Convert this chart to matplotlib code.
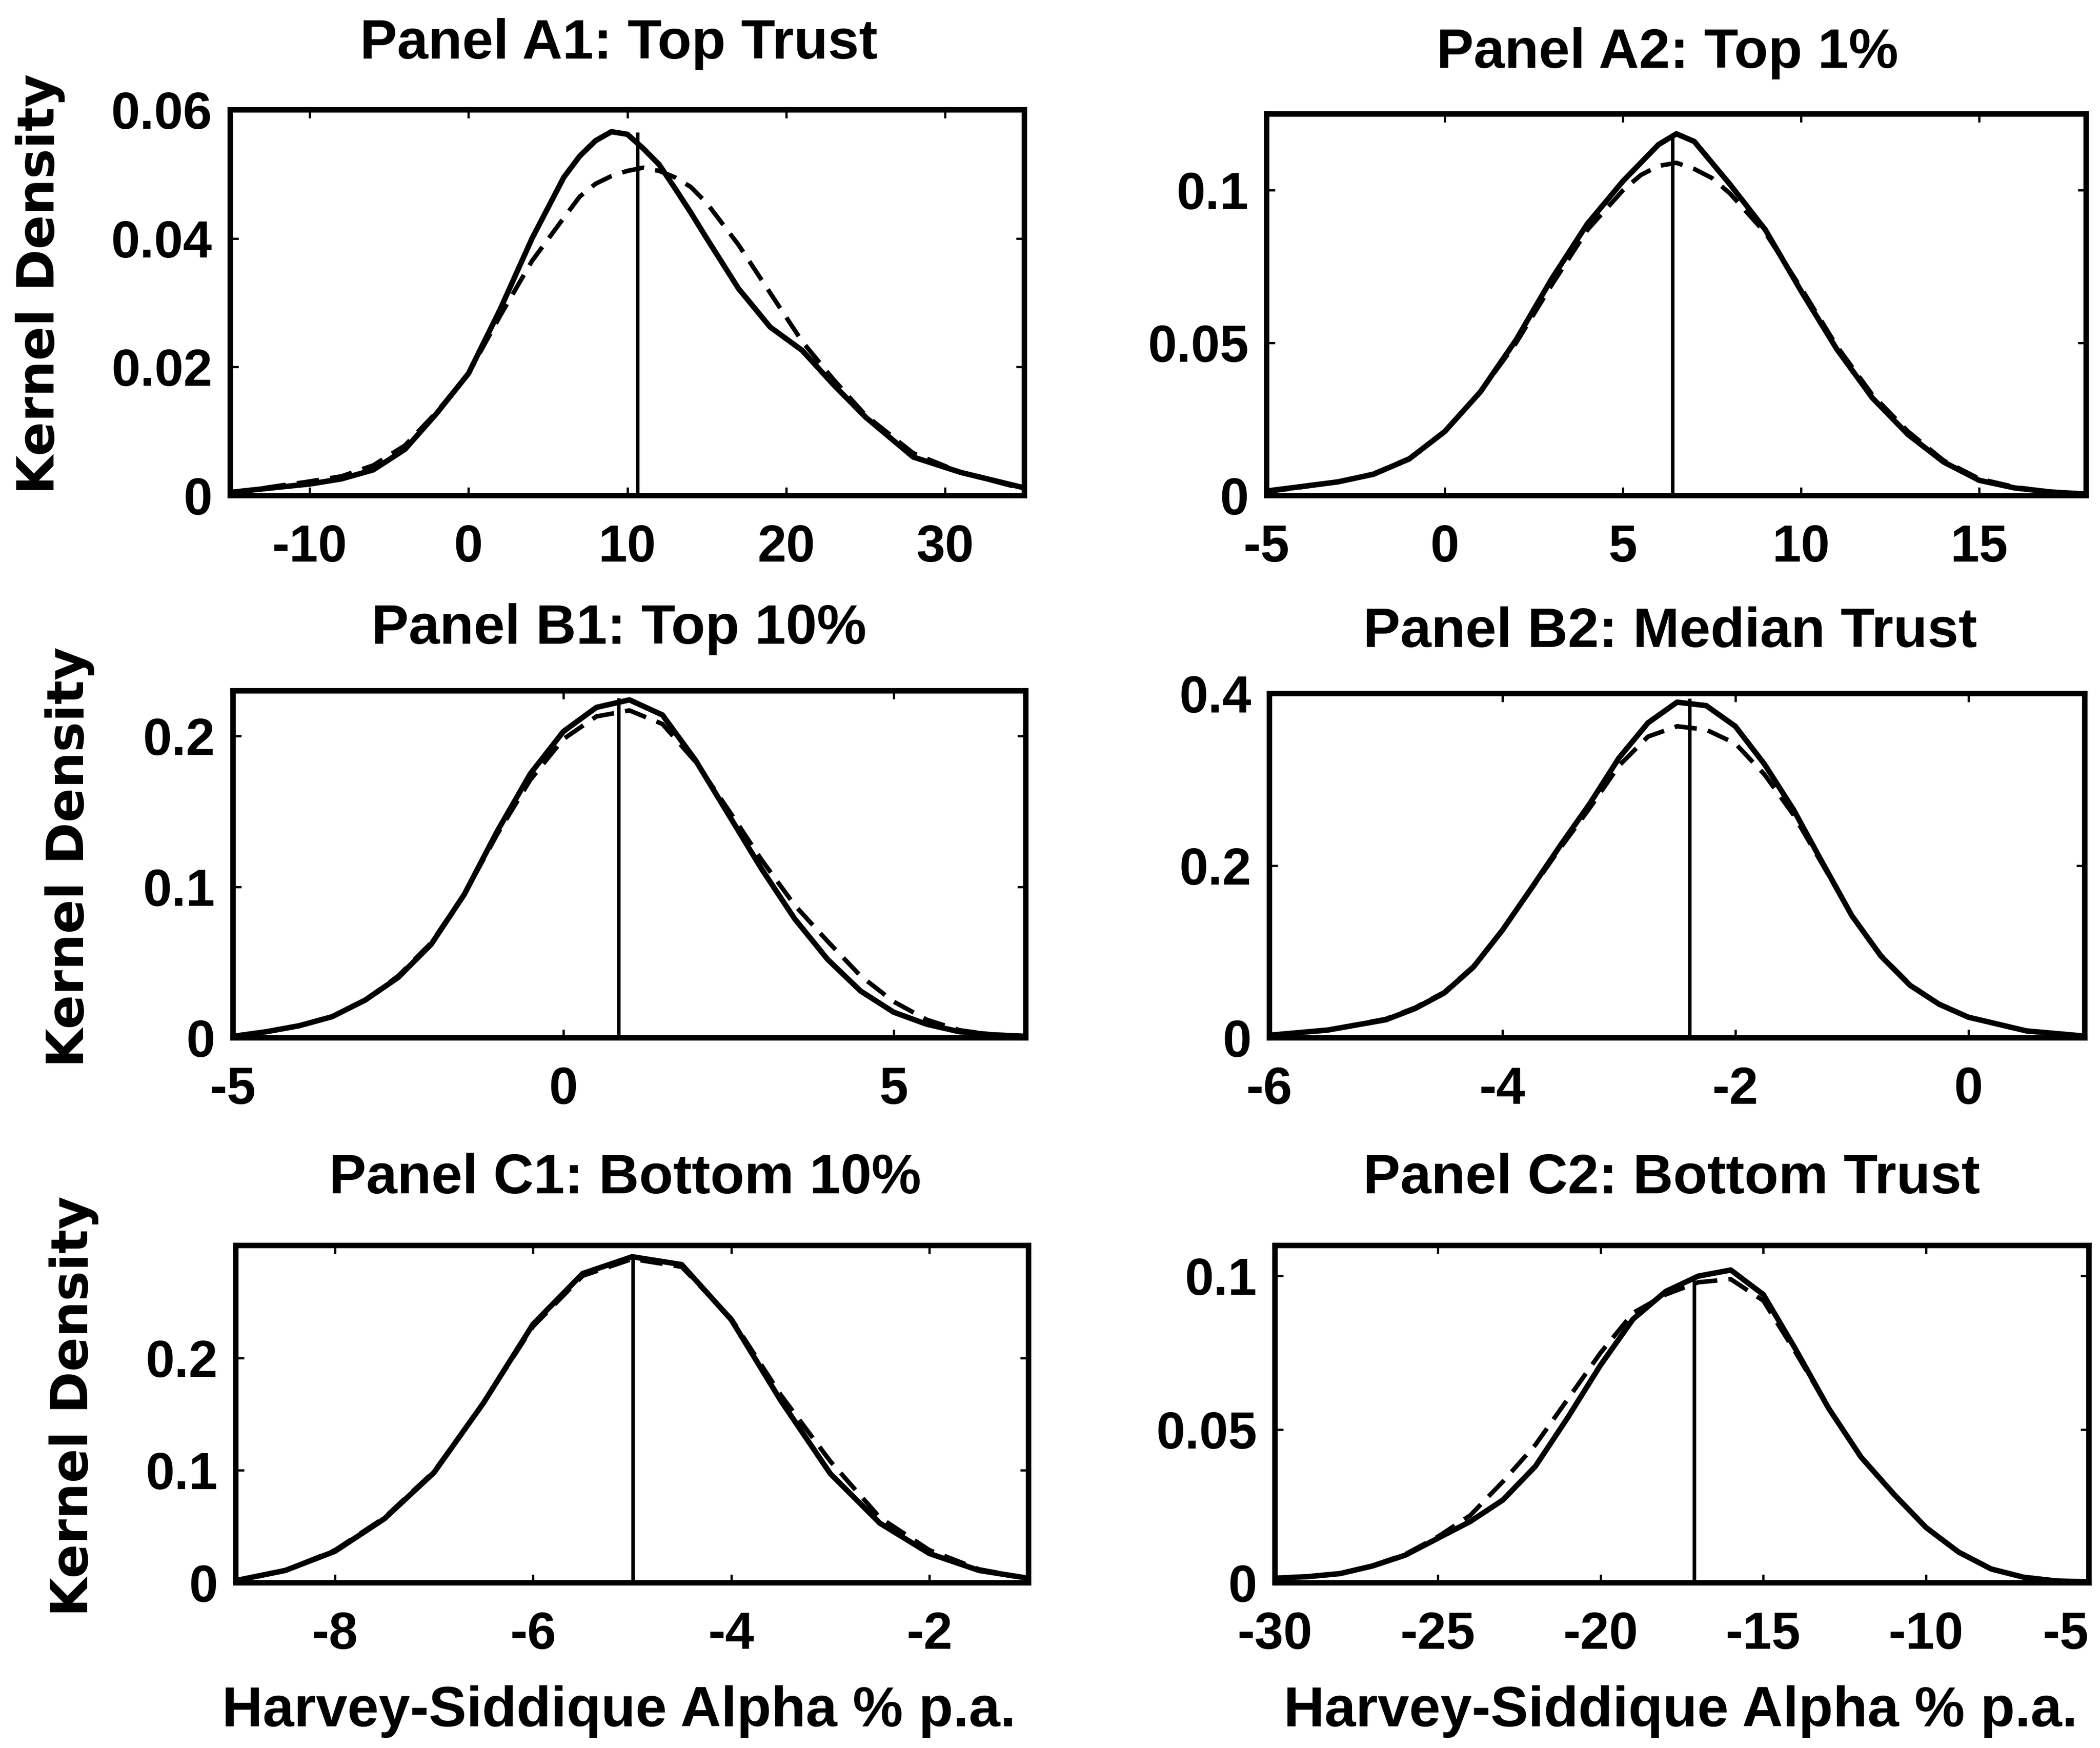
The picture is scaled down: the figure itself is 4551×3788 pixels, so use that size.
import matplotlib
matplotlib.use("Agg")
import matplotlib.pyplot as plt
from matplotlib import font_manager

plt.rcParams["axes.unicode_minus"] = False

names = {f.name for f in font_manager.fontManager.ttflist}
MAIN_FONT = "Liberation Sans" if "Liberation Sans" in names else "DejaVu Sans"
YLAB_FONT = "DejaVu Sans"

# ---------------- data ----------------
# Panel A1: Top Trust
a1_alpha = [-15, -12, -10, -8, -6, -4, -2, 0, 2, 4, 6, 7, 8, 9, 10, 11, 12, 13, 14,
            15, 17, 19, 21, 23, 25, 28, 31, 35]
a1_solid = [0.0005, 0.0013, 0.0018, 0.0026, 0.0040, 0.0072, 0.0128, 0.019, 0.029,
            0.040, 0.0495, 0.0528, 0.0552, 0.0566, 0.0562, 0.054, 0.0515, 0.0478,
            0.0440, 0.0400, 0.0322, 0.0262, 0.0226, 0.0172, 0.0122, 0.0060, 0.0036, 0.0012]
a1_dashed = [0.0004, 0.0015, 0.0022, 0.003, 0.0047, 0.0078, 0.013, 0.019, 0.028,
             0.0365, 0.0432, 0.0465, 0.0485, 0.0497, 0.0505, 0.051, 0.0505, 0.0495,
             0.0480, 0.0455, 0.0390, 0.0315, 0.0240, 0.0180, 0.0125, 0.0066, 0.0036, 0.001]
a1_actual, a1_actual_top = 10.65, 0.0562

# Panel A2: Top 1%
a2_alpha = [-5, -4, -3, -2, -1, 0, 1, 2, 3, 4, 5, 5.5, 6, 6.5, 7, 7.5, 8, 9, 10, 11,
            12, 13, 14, 15, 16, 17, 18]
a2_solid = [0.0015, 0.003, 0.0045, 0.007, 0.012, 0.021, 0.034, 0.051, 0.071, 0.089,
            0.103, 0.109, 0.115, 0.1185, 0.116, 0.109, 0.102, 0.087, 0.067, 0.048,
            0.032, 0.020, 0.011, 0.005, 0.0025, 0.0012, 0.0005]
a2_dashed = [0.0012, 0.0028, 0.0045, 0.0072, 0.0122, 0.021, 0.034, 0.050, 0.069,
             0.087, 0.100, 0.105, 0.108, 0.109, 0.107, 0.104, 0.099, 0.086, 0.068,
             0.049, 0.033, 0.021, 0.0115, 0.0055, 0.0028, 0.0012, 0.0004]
a2_actual, a2_actual_top = 6.4, 0.117

# Panel B1: Top 10%
b1_alpha = [-5, -4.5, -4, -3.5, -3, -2.5, -2, -1.5, -1, -0.5, 0, 0.5, 1, 1.5, 2, 2.5,
            3, 3.5, 4, 4.5, 5, 5.5, 6, 6.5, 7]
b1_solid = [0.001, 0.004, 0.008, 0.014, 0.025, 0.040, 0.062, 0.095, 0.137, 0.175,
            0.203, 0.219, 0.224, 0.214, 0.184, 0.148, 0.112, 0.079, 0.052, 0.031,
            0.017, 0.009, 0.004, 0.002, 0.001]
b1_dashed = [0.001, 0.004, 0.008, 0.014, 0.025, 0.041, 0.063, 0.095, 0.135, 0.171,
             0.198, 0.213, 0.217, 0.208, 0.183, 0.151, 0.118, 0.088, 0.064, 0.041,
             0.024, 0.012, 0.005, 0.002, 0.001]
b1_actual, b1_actual_top = 0.84, 0.224

# Panel B2: Median Trust
b2_alpha = [-6, -5.5, -5, -4.75, -4.5, -4.25, -4, -3.75, -3.5, -3.25, -3, -2.75, -2.5,
            -2.25, -2, -1.75, -1.5, -1.25, -1, -0.75, -0.5, -0.25, 0, 0.5, 1]
b2_solid = [0.003, 0.009, 0.021, 0.034, 0.052, 0.082, 0.125, 0.174, 0.224, 0.272,
            0.325, 0.366, 0.390, 0.386, 0.362, 0.318, 0.265, 0.203, 0.142, 0.095,
            0.061, 0.039, 0.024, 0.008, 0.002]
b2_dashed = [0.003, 0.009, 0.022, 0.035, 0.053, 0.083, 0.125, 0.173, 0.221, 0.267,
             0.316, 0.350, 0.362, 0.358, 0.342, 0.306, 0.259, 0.201, 0.142, 0.096,
             0.062, 0.039, 0.024, 0.008, 0.002]
b2_actual, b2_actual_top = -2.39, 0.392

# Panel C1: Bottom 10%
c1_alpha = [-9, -8.5, -8, -7.5, -7, -6.5, -6, -5.5, -5, -4.5, -4, -3.5, -3, -2.5, -2,
            -1.5, -1]
c1_solid = [0.002, 0.011, 0.028, 0.057, 0.098, 0.160, 0.230, 0.275, 0.290, 0.283,
            0.234, 0.162, 0.097, 0.053, 0.026, 0.011, 0.004]
c1_dashed = [0.002, 0.011, 0.029, 0.058, 0.099, 0.160, 0.228, 0.273, 0.288, 0.281,
             0.235, 0.167, 0.108, 0.058, 0.029, 0.012, 0.004]
c1_actual, c1_actual_top = -4.99, 0.289

# Panel C2: Bottom Trust
c2_alpha = [-30, -29, -28, -27, -26, -25, -24, -23, -22, -21, -20, -19, -18, -17, -16,
            -15, -14, -13, -12, -11, -10, -9, -8, -7, -6, -5]
c2_solid = [0.0015, 0.002, 0.003, 0.0055, 0.009, 0.0145, 0.020, 0.027, 0.038, 0.054,
            0.071, 0.086, 0.095, 0.100, 0.102, 0.094, 0.076, 0.057, 0.041, 0.029,
            0.018, 0.010, 0.0045, 0.0018, 0.0006, 0.0003]
c2_dashed = [0.0015, 0.002, 0.003, 0.0056, 0.0093, 0.015, 0.022, 0.033, 0.045, 0.060,
             0.075, 0.088, 0.094, 0.098, 0.099, 0.092, 0.075, 0.057, 0.041, 0.029,
             0.018, 0.010, 0.0045, 0.0018, 0.0006, 0.0003]
c2_actual, c2_actual_top = -17.12, 0.098

titles = ["Panel A1: Top Trust", "Panel A2: Top 1%", "Panel B1: Top 10%",
          "Panel B2: Median Trust", "Panel C1: Bottom 10%", "Panel C2: Bottom Trust"]

x_limits = [(-15, 35), (-5, 18), (-5, 7), (-6, 1), (-9, -1), (-30, -5)]
y_limits = [(0, 0.06), (0, 0.125), (0, 0.23), (0, 0.4), (0, 0.3), (0, 0.11)]
x_ticks = [[-10, 0, 10, 20, 30], [-5, 0, 5, 10, 15], [-5, 0, 5], [-6, -4, -2, 0],
           [-8, -6, -4, -2], [-30, -25, -20, -15, -10, -5]]
x_ticklabels = [["-10", "0", "10", "20", "30"], ["-5", "0", "5", "10", "15"],
                ["-5", "0", "5"], ["-6", "-4", "-2", "0"], ["-8", "-6", "-4", "-2"],
                ["-30", "-25", "-20", "-15", "-10", "-5"]]
y_ticks = [[0, 0.02, 0.04, 0.06], [0, 0.05, 0.1], [0, 0.1, 0.2], [0, 0.2, 0.4],
           [0, 0.1, 0.2], [0, 0.05, 0.1]]
y_ticklabels = [["0", "0.02", "0.04", "0.06"], ["0", "0.05", "0.1"], ["0", "0.1", "0.2"],
                ["0", "0.2", "0.4"], ["0", "0.1", "0.2"], ["0", "0.05", "0.1"]]

panels = [
    (a1_alpha, a1_solid, a1_dashed, a1_actual, a1_actual_top),
    (a2_alpha, a2_solid, a2_dashed, a2_actual, a2_actual_top),
    (b1_alpha, b1_solid, b1_dashed, b1_actual, b1_actual_top),
    (b2_alpha, b2_solid, b2_dashed, b2_actual, b2_actual_top),
    (c1_alpha, c1_solid, c1_dashed, c1_actual, c1_actual_top),
    (c2_alpha, c2_solid, c2_dashed, c2_actual, c2_actual_top),
]

xlabel_text = "Harvey-Siddique Alpha % p.a."
ylabel_text = "Kernel Density"

# ---------------- layout (pixels on a 4551 x 3788 canvas) ----------------
W, H = 4551, 3788
boxes = [  # left, right, top, bottom
    (499, 2220, 238, 1074), (2745, 4521, 247, 1074),
    (505, 2223, 1497, 2249), (2751, 4518, 1503, 2249),
    (511, 2229, 2699, 3430), (2763, 4527, 2699, 3430),
]
title_pos = [(1341, 96), (3613, 116), (1341, 1364), (3619, 1370), (1355, 2554), (3622, 2554)]
ylabel_pos = [(87, 615), (151, 1857), (160, 3047)]
xlabel_pos = [(1341, 3709), (3642, 3709)]

fig = plt.figure(figsize=(W / 100, H / 100), dpi=100, facecolor="white")

TICK_FS = 81
TITLE_FS = 87
LW = 8.5

for i, (alpha, solid, dashed, actual, actual_top) in enumerate(panels):
    l, r, t, b = boxes[i]
    ax = fig.add_axes([l / W, 1 - b / H, (r - l) / W, (b - t) / H])
    ax.plot(alpha, solid, color="black", lw=LW, solid_joinstyle="round",
            solid_capstyle="round")
    ax.plot(alpha, dashed, color="black", lw=LW - 1.5, linestyle=(0, (5, 2.5)))
    ax.plot([actual, actual], [0, actual_top], color="black", lw=5.5)
    ax.set_xlim(*x_limits[i])
    ax.set_ylim(*y_limits[i])
    ax.set_xticks(x_ticks[i])
    ax.set_xticklabels(x_ticklabels[i])
    ax.set_yticks(y_ticks[i])
    ax.set_yticklabels(y_ticklabels[i])
    ax.tick_params(axis="both", direction="in", top=True, right=True, length=13,
                   width=3.5, labelsize=TICK_FS)
    ax.tick_params(axis="x", pad=44)
    ax.tick_params(axis="y", pad=28)
    for lab in ax.get_xticklabels() + ax.get_yticklabels():
        lab.set_fontfamily(MAIN_FONT)
        lab.set_fontweight("bold")
    if i == 5:
        # keep the last tick label inside the canvas
        ax.get_xticklabels()[-1].set_horizontalalignment("right")
    for sp in ax.spines.values():
        sp.set_linewidth(8.5)
    tx, ty = title_pos[i]
    fig.text(tx / W, 1 - ty / H, titles[i], ha="center", va="center",
             fontsize=TITLE_FS, fontweight="bold", family=MAIN_FONT)

for (xx, yy) in ylabel_pos:
    fig.text(xx / W, 1 - yy / H, ylabel_text, rotation=90, ha="center", va="center",
             fontsize=79, fontweight="bold", family=YLAB_FONT)

for (xx, yy) in xlabel_pos:
    fig.text(xx / W, 1 - yy / H, xlabel_text, ha="center", va="center",
             fontsize=88, fontweight="bold", family=MAIN_FONT)

fig.savefig("out.png", dpi=100, facecolor="white")
